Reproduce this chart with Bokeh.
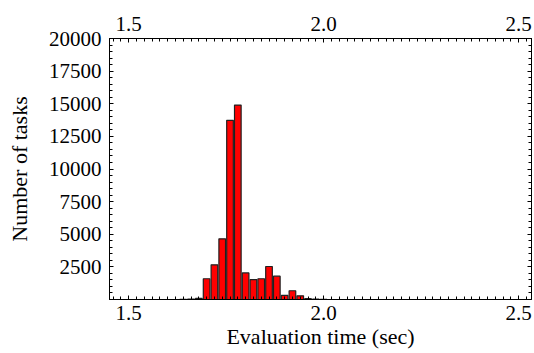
from bokeh.plotting import figure
from bokeh.models import LinearAxis, FixedTicker, ColumnDataSource, PrintfTickFormatter
from bokeh.embed import file_html
from bokeh.resources import INLINE

# Histogram data: bin centers (sec) and counts
bin_centers = [round(1.50 + 0.02 * i, 2) for i in range(51)]
nonzero_counts = {
    1.64: 15, 1.66: 30, 1.68: 80, 1.70: 1590, 1.72: 2660, 1.74: 4650,
    1.76: 13730, 1.78: 14900, 1.80: 2040, 1.82: 1530, 1.84: 1590,
    1.86: 2530, 1.88: 1790, 1.90: 310, 1.92: 670, 1.94: 280,
    1.96: 60, 1.98: 25, 2.00: 10,
}
counts = [nonzero_counts.get(c, 0) for c in bin_centers]

x_tick_labels = [1.5, 2.0, 2.5]
y_tick_labels = [2500, 5000, 7500, 10000, 12500, 15000, 17500, 20000]
x_minor = [round(1.46 + 0.02 * i, 2) for i in range(55)]
y_minor = [500 * i for i in range(41)]

FONT = "Liberation Serif"
FS = "21px"
TFS = "22px"

line_colors = ["#202020" if c > 0 else "#ffc0c0" for c in counts]
src = ColumnDataSource(dict(x=bin_centers, top=counts, lc=line_colors))

p = figure(width=534, height=353, x_range=(1.451, 2.533), y_range=(0, 20000),
           output_backend="svg", toolbar_location=None,
           min_border_left=109, min_border_right=3, min_border_top=38, min_border_bottom=54)

p.vbar(x="x", top="top", bottom=0, width=0.017, source=src,
       fill_color="#ff0000", line_color="lc", line_width=1.2)

p.grid.visible = False
p.outline_line_color = "black"
p.outline_line_width = 1
p.background_fill_color = "white"
p.border_fill_color = "white"


def style(ax):
    ax.axis_line_color = "black"
    ax.major_tick_in = 4
    ax.major_tick_out = 0
    ax.minor_tick_in = 3
    ax.minor_tick_out = 0
    ax.major_tick_line_color = "black"
    ax.minor_tick_line_color = "black"
    ax.major_label_text_font = FONT
    ax.major_label_text_font_size = FS
    ax.major_label_text_color = "black"
    ax.axis_label_text_font = FONT
    ax.axis_label_text_font_size = TFS
    ax.axis_label_text_font_style = "normal"
    ax.axis_label_text_color = "black"


xb = p.xaxis[0]
xb.ticker = FixedTicker(ticks=x_tick_labels, minor_ticks=x_minor)
xb.formatter = PrintfTickFormatter(format="%.1f")
xb.axis_label = "Evaluation time (sec)"
xb.axis_label_standoff = 1
xb.major_label_standoff = 6
style(xb)

yl = p.yaxis[0]
yl.ticker = FixedTicker(ticks=y_tick_labels, minor_ticks=y_minor)
yl.axis_label = "Number of tasks"
yl.axis_label_standoff = 14
yl.major_label_standoff = 8
style(yl)

xtop = LinearAxis(ticker=FixedTicker(ticks=x_tick_labels, minor_ticks=x_minor),
                  formatter=PrintfTickFormatter(format="%.1f"))
style(xtop)
xtop.major_label_standoff = 8
p.add_layout(xtop, "above")

yr = LinearAxis(ticker=FixedTicker(ticks=y_tick_labels, minor_ticks=y_minor))
style(yr)
yr.major_label_text_font_size = "0px"
yr.major_label_text_alpha = 0
yr.major_label_standoff = 0
p.add_layout(yr, "right")

open("out.html", "w").write(file_html(p, INLINE))
